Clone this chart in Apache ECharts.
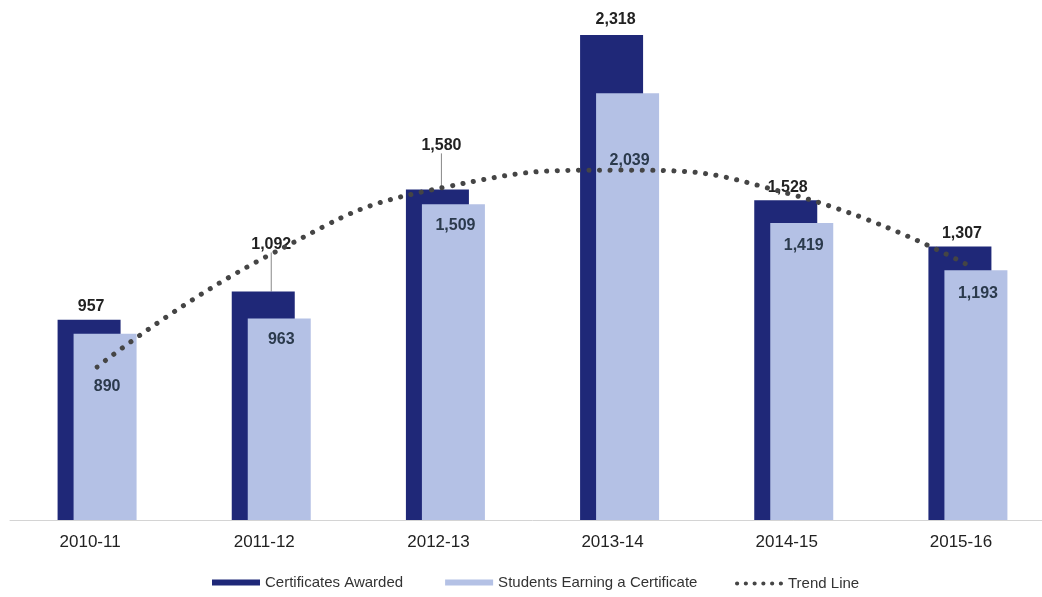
<!DOCTYPE html>
<html>
<head>
<meta charset="utf-8">
<script src="https://cdn.jsdelivr.net/npm/echarts@6/dist/echarts.min.js"></script>
<style>
html,body{margin:0;padding:0;background:#fff;overflow:hidden;width:1042px;height:597px;}
#chart{width:1062px;height:597px;}
</style>
</head>
<body>
<div id="chart"></div>
<script>
// ---- data ----
const categories = ['2010-11', '2011-12', '2012-13', '2013-14', '2014-15', '2015-16'];
const certificatesAwarded = [957, 1092, 1580, 2318, 1528, 1307];
const studentsEarning = [890, 963, 1509, 2039, 1419, 1193];
const trendLine = [731, 1271, 1591, 1672, 1553, 1218];

// ---- label layout tweaks (positions only) ----
const awardedLabelShift = [[2, 0], [8, -34], [4, -31], [4, -2], [2, 0], [2, 0]];
const awardedLeader = [false, true, true, false, false, false];
const studentsLabelShift = [[2, 32], [2, 0], [2, 0], [2, 46], [2, 2], [2, 2]];

const DARK = '#1f2878';
const LIGHT = '#b4c1e5';
const TREND = '#454545';
const FONT = '"Liberation Sans", Arial, sans-serif';

function dotsPath(n, w, r) {
  let p = '';
  const step = (w - 2 * r) / (n - 1);
  for (let i = 0; i < n; i++) {
    const cx = r + i * step;
    p += 'M' + (cx - r) + ',' + r + 'A' + r + ',' + r + ',0,1,1,' + (cx + r) + ',' + r +
         'A' + r + ',' + r + ',0,1,1,' + (cx - r) + ',' + r + 'Z';
  }
  return 'path://' + p;
}

const chart = echarts.init(document.getElementById('chart'), null, {renderer: 'canvas'});

const option = {
  animation: false,
  backgroundColor: '#ffffff',
  grid: {left: 10, width: 1045, top: 0, bottom: 77, containLabel: false},
  xAxis: {
    type: 'category',
    data: categories,
    axisLine: {show: true, lineStyle: {color: '#d4d4d4', width: 1}},
    axisTick: {show: false},
    axisLabel: {
      color: '#222', fontSize: 17, fontFamily: FONT, margin: 14,
      padding: [0, 14, 0, 0]
    },
    splitLine: {show: false}
  },
  yAxis: {
    type: 'value', min: 0, max: 2485, show: false,
    splitLine: {show: false}
  },
  legend: [
    {
      data: ['Certificates Awarded', 'Students Earning a Certificate'],
      left: 212, top: 575, padding: 0,
      icon: 'rect', itemWidth: 48, itemHeight: 6, itemGap: 42,
      textStyle: {color: '#333', fontSize: 15, fontFamily: FONT}
    },
    {
      data: ['Trend Line'],
      left: 735, top: 576, padding: 0,
      icon: dotsPath(6, 48, 2.1), itemWidth: 48, itemHeight: 4.2,
      itemStyle: {color: TREND, borderWidth: 0},
      lineStyle: {width: 0, type: 'solid'},
      textStyle: {color: '#333', fontSize: 15, fontFamily: FONT}
    }
  ],
  series: [
    {
      name: 'Certificates Awarded',
      type: 'bar',
      barWidth: 63,
      barGap: '-74.6%',
      itemStyle: {color: DARK},
      data: certificatesAwarded.map((v, i) => ({
        value: v,
        labelLine: {show: awardedLeader[i], lineStyle: {color: '#888', width: 1}}
      })),
      label: {
        show: true, position: 'top', distance: 5,
        color: '#222', fontSize: 16, fontWeight: 'bold', fontFamily: FONT,
        formatter: p => p.value.toLocaleString('en-US')
      },
      labelLine: {show: false, smooth: false, length2: 0},
      labelLayout: function (params) {
        const s = awardedLabelShift[params.dataIndex];
        return {dx: s[0], dy: s[1]};
      },
      z: 2
    },
    {
      name: 'Students Earning a Certificate',
      type: 'bar',
      barWidth: 63,
      itemStyle: {color: LIGHT},
      data: studentsEarning.map((v, i) => ({
        value: v,
        label: {offset: studentsLabelShift[i]}
      })),
      label: {
        show: true, position: 'insideTop', distance: 13,
        color: '#2b3a4c', fontSize: 16, fontWeight: 'bold', fontFamily: FONT,
        formatter: p => p.value.toLocaleString('en-US')
      },
      z: 3
    },
    {
      name: 'Trend Line',
      type: 'line',
      data: trendLine,
      smooth: true,
      symbol: 'none',
      itemStyle: {color: TREND},
      lineStyle: {color: TREND, width: 5, type: [0.1, 10.5], cap: 'round'},
      z: 5
    }
  ]
};

chart.setOption(option);
</script>
</body>
</html>
